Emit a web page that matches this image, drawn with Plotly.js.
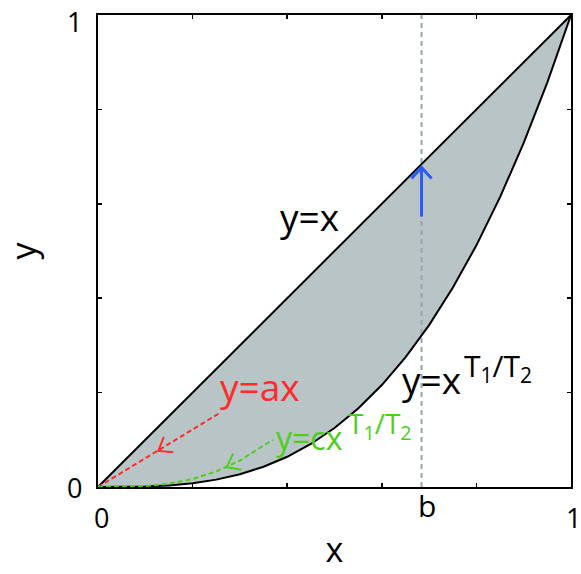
<!DOCTYPE html>
<html>
<head>
<meta charset="utf-8">
<script src="https://cdn.plot.ly/plotly-3.0.1.min.js"></script>
<style>
  html, body { margin: 0; padding: 0; background: #ffffff; }
  #chart { width: 581px; height: 574px; }
</style>
</head>
<body>
<div id="chart"></div>
<script>
// values
const curveX = [0, 0.05, 0.1, 0.15, 0.2, 0.25, 0.3, 0.35, 0.4, 0.45, 0.5,
                0.55, 0.6, 0.65, 0.7, 0.75, 0.8, 0.85, 0.9, 0.95, 1];
const lowerY = [0, 0.0001, 0.001, 0.0034, 0.008, 0.0156, 0.027, 0.0429, 0.064, 0.0911, 0.125,
                0.1664, 0.216, 0.2746, 0.343, 0.4219, 0.512, 0.6141, 0.729, 0.8574, 1];
const upperX = [0, 1];
const upperY = [0, 1];

const bValue = 0.684;

const redX = [0, 0.256];
const redY = [0, 0.156];

const greenX = [0, 0.05, 0.1, 0.15, 0.2, 0.25, 0.3, 0.35, 0.37];
const greenY = [0, 0.0003, 0.002, 0.007, 0.017, 0.033, 0.056, 0.088, 0.1];

const blueX = [0.684, 0.684];
const blueY = [0.573, 0.677];

const tickVals = [0, 0.2, 0.4, 0.6, 0.8, 1];
const labelVals = [0, 1];
const labelText = ['0', '1'];

const RED = '#ff2a2a';
const GREEN = '#4ccf1a';
const BLUE = '#2a5bff';
const FONT = "'Open Sans', 'DejaVu Sans', sans-serif";

// plot area in pixels, used to draw the open arrow heads
const W = 473, H = 472;

function arrowHead(tip, back, color, len, ang, width) {
  const dx = (back[0] - tip[0]) * W;
  const dy = (back[1] - tip[1]) * H;
  const n = Math.hypot(dx, dy);
  const ux = dx / n, uy = dy / n;
  const wing = s => {
    const c = Math.cos(s * ang), si = Math.sin(s * ang);
    return [tip[0] + len * (ux * c - uy * si) / W, tip[1] + len * (ux * si + uy * c) / H];
  };
  const a = wing(-1), b = wing(1);
  return {
    x: [a[0], tip[0], b[0]], y: [a[1], tip[1], b[1]],
    mode: 'lines', line: { color: color, width: width },
    hoverinfo: 'skip', showlegend: false
  };
}

const fillTrace = {
  x: curveX.concat(upperX.slice().reverse()),
  y: lowerY.concat(upperY.slice().reverse()),
  mode: 'lines', fill: 'toself', fillcolor: '#b8c4c6',
  line: { width: 0 }, hoverinfo: 'skip', showlegend: false
};

const bLine = {
  x: [bValue, bValue], y: [0, 1], mode: 'lines',
  line: { color: '#92a6ad', width: 2, dash: '5px,4px' },
  hoverinfo: 'skip', showlegend: false
};

const lowerTrace = {
  x: curveX, y: lowerY, mode: 'lines',
  line: { color: '#000000', width: 2 }, showlegend: false
};

const upperTrace = {
  x: upperX, y: upperY, mode: 'lines',
  line: { color: '#000000', width: 2 }, showlegend: false
};

const redTrace = {
  x: redX, y: redY, mode: 'lines',
  line: { color: RED, width: 2, dash: '5px,3px' }, showlegend: false
};

const greenTrace = {
  x: greenX, y: greenY, mode: 'lines',
  line: { color: GREEN, width: 2, dash: '5px,3px' }, showlegend: false
};

const blueTrace = {
  x: blueX, y: blueY, mode: 'lines',
  line: { color: BLUE, width: 3 }, showlegend: false
};

const heads = [
  arrowHead([0.1275, 0.0763], [redX[1], redY[1]], RED, 15, 37 * Math.PI / 180, 2),
  arrowHead([0.272, 0.042], [0.33, 0.072], GREEN, 15, 37 * Math.PI / 180, 2),
  arrowHead([blueX[1], blueY[1]], [blueX[0], blueY[0]], BLUE, 15, 42 * Math.PI / 180, 3)
];

const axisCommon = {
  range: [0, 1],
  tickmode: 'array', tickvals: tickVals, showticklabels: false,
  ticks: 'inside', ticklen: 4, tickwidth: 1.5, tickcolor: '#000000',
  showline: true, linewidth: 2, linecolor: '#000000', mirror: 'ticks',
  showgrid: false, zeroline: false, fixedrange: true
};

const tickFont = { family: FONT, size: 27, color: '#000000' };

// tick labels "0" and "1" on both axes; the top one is anchored at its top so it stays inside the page
const yLabelAnn = labelVals.map((v, i) => ({
  x: 0, y: v, xref: 'paper', yref: 'y', xanchor: 'right', xshift: -14,
  yanchor: v === 1 ? 'top' : 'middle', yshift: v === 1 ? 14 : 0,
  text: labelText[i], showarrow: false, font: tickFont
}));
const xLabelAnn = labelVals.map((v, i) => ({
  x: v, y: 0, xref: 'x', yref: 'paper', yanchor: 'top', yshift: -10,
  xshift: v === 0 ? 3 : 2,
  text: labelText[i], showarrow: false, font: tickFont
}));

const layout = {
  width: 581, height: 574,
  margin: { l: 98, r: 10, t: 15, b: 87 },
  paper_bgcolor: '#ffffff', plot_bgcolor: '#ffffff',
  font: { family: FONT, color: '#000000' },
  showlegend: false,
  xaxis: Object.assign({}, axisCommon, {
    title: { text: 'x', font: { family: FONT, size: 34 }, standoff: 50 }
  }),
  yaxis: Object.assign({}, axisCommon, {
    title: { text: 'y', font: { family: FONT, size: 34 }, standoff: 50 }
  }),
  annotations: yLabelAnn.concat(xLabelAnn, [
    { x: bValue + 0.011, y: 0, xref: 'x', yref: 'paper', yanchor: 'top', yshift: 4,
      text: 'b', showarrow: false, font: { family: FONT, size: 30, color: '#000000' } },
    { x: 0.448, y: 0.574, text: 'y=x', showarrow: false,
      font: { family: FONT, size: 37, color: '#000000' } },
    { x: 0.706, y: 0.228, text: 'y=x', showarrow: false,
      font: { family: FONT, size: 37, color: '#000000' } },
    { x: 0.77, y: 0.254, xanchor: 'left', text: 'T<sub>1</sub>/T<sub>2</sub>', showarrow: false,
      font: { family: FONT, size: 30, color: '#000000' } },
    { x: 0.343, y: 0.212, text: 'y=ax', showarrow: false,
      font: { family: FONT, size: 37, color: RED } },
    { x: 0.448, y: 0.104, text: 'y=cx', showarrow: false,
      font: { family: FONT, size: 32, color: GREEN } },
    { x: 0.524, y: 0.132, xanchor: 'left', text: 'T<sub>1</sub>/T<sub>2</sub>', showarrow: false,
      font: { family: FONT, size: 28, color: GREEN } }
  ])
};

Plotly.newPlot('chart',
  [fillTrace, bLine, lowerTrace, upperTrace, redTrace, greenTrace, blueTrace].concat(heads),
  layout, { displayModeBar: false, staticPlot: true });
</script>
</body>
</html>
